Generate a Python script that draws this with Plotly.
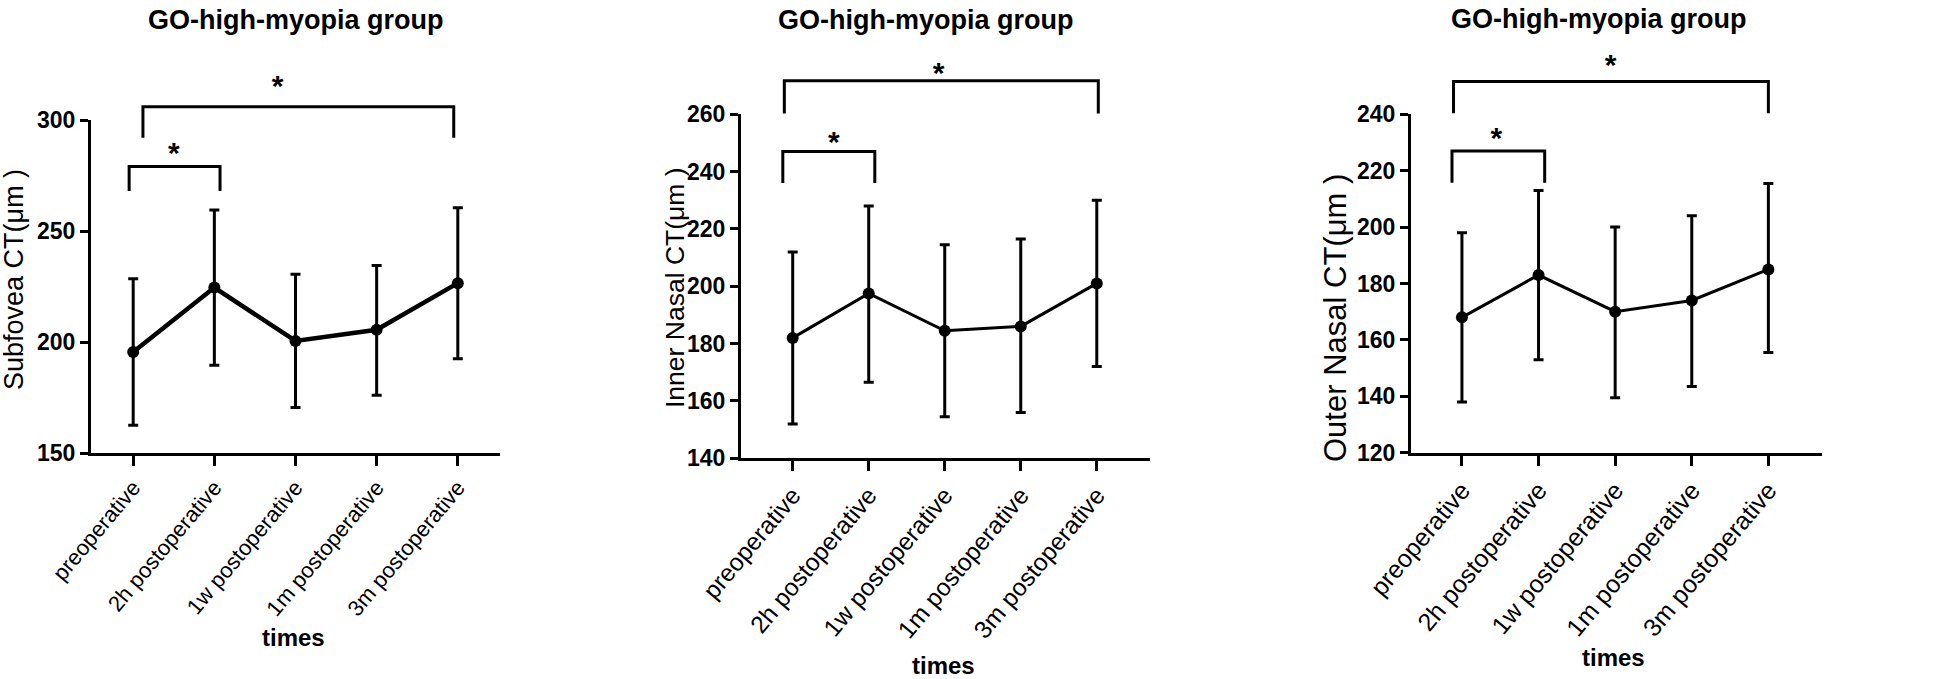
import plotly.graph_objects as go

W, H = 1946, 679

categories = ["preoperative", "2h postoperative", "1w postoperative",
              "1m postoperative", "3m postoperative"]

subfovea_mean = [195.5, 224.5, 200.5, 205.5, 226.5]
subfovea_upper = [228.5, 259.5, 230.5, 234.5, 260.5]
subfovea_lower = [162.5, 189.5, 170.5, 176.0, 192.5]

inner_mean = [182.0, 197.5, 184.5, 186.0, 201.0]
inner_upper = [212.0, 228.0, 214.5, 216.5, 230.0]
inner_lower = [152.0, 166.5, 154.5, 156.0, 172.0]

outer_mean = [168.0, 183.0, 170.0, 174.0, 185.0]
outer_upper = [198.0, 213.0, 200.0, 204.0, 215.5]
outer_lower = [138.0, 153.0, 139.5, 143.5, 155.5]

y_titles = ["Subfovea CT(μm )", "Inner Nasal CT(μm )", "Outer Nasal CT(μm )"]
chart_title = "GO-high-myopia group"
x_title = "times"

y_ticks = [[150, 200, 250, 300], [140, 160, 180, 200, 220, 240, 260],
           [120, 140, 160, 180, 200, 220, 240]]

# significance brackets: [x_left, x_right, y_top, y_leg_bottom], star [x, y]
brackets = [
    [[-0.05, 1.07, 279, 268], [0.12, 3.95, 306, 292]],
    [[-0.13, 1.08, 247, 236], [-0.11, 4.02, 271.7, 260.3]],
    [[-0.13, 1.08, 227, 215.7], [-0.11, 4.00, 251.6, 240.4]],
]
stars = [
    [[0.50, 283.8], [1.78, 314.3]],
    [[0.54, 249.6], [1.92, 273.5]],
    [[0.45, 230.6], [1.94, 256.6]],
]

means = [subfovea_mean, inner_mean, outer_mean]
uppers = [subfovea_upper, inner_upper, outer_upper]
lowers = [subfovea_lower, inner_lower, outer_lower]

# layout (pixel geometry)
x_px = [(91, 500), (741, 1150), (1411, 1822)]
y_px = [(120, 453), (114.3, 458.3), (114.3, 452.7)]
x_ranges = [[-0.52, 4.52], [-0.68, 4.70], [-0.665, 4.70]]
line_w = [4.5, 3, 3]
xtick_size = [22, 24.5, 25]
ytitle_pos = [(14, 280, 27), (675, 288, 26.5), (1335, 318, 31)]
title_pos = [(295, 20), (925, 20), (1598, 19)]
times_pos = [(293, 637), (943, 665), (1613, 657)]

FONT = "Liberation Sans, Arial, sans-serif"

fig = go.Figure()
layout = dict(width=W, height=H, margin=dict(l=0, r=0, t=0, b=0, pad=0),
              paper_bgcolor="white", plot_bgcolor="rgba(0,0,0,0)",
              showlegend=False, annotations=[])

for i in range(3):
    n = i + 1
    xa = "x" if n == 1 else f"x{n}"
    ya = "y" if n == 1 else f"y{n}"
    m, up, lo = means[i], uppers[i], lowers[i]
    fig.add_trace(go.Scatter(
        x=list(range(len(categories))), y=m, xaxis=xa, yaxis=ya,
        mode="lines+markers",
        line=dict(color="black", width=line_w[i]),
        marker=dict(color="black", size=12),
        error_y=dict(type="data", symmetric=False,
                     array=[u - v for u, v in zip(up, m)],
                     arrayminus=[v - l for v, l in zip(m, lo)],
                     color="black", thickness=3, width=5),
        cliponaxis=False))

    d0x, d1x = x_px[i][0] / W, x_px[i][1] / W
    d0y, d1y = 1 - y_px[i][1] / H, 1 - y_px[i][0] / H
    yr = [y_ticks[i][0], y_ticks[i][-1]]
    layout[f"xaxis{'' if n == 1 else n}"] = dict(
        domain=[d0x, d1x], range=x_ranges[i], anchor=ya, automargin=False,
        showline=True, linewidth=3, linecolor="black", showgrid=False,
        zeroline=False, ticks="outside", ticklen=10, tickwidth=3,
        tickcolor="black", tickvals=list(range(len(categories))),
        ticktext=categories, tickangle=-50,
        tickfont=dict(family=FONT, size=xtick_size[i], color="black"))
    layout[f"yaxis{'' if n == 1 else n}"] = dict(
        domain=[d0y, d1y], range=yr, anchor=xa, automargin=False,
        showline=True, linewidth=3, linecolor="black", showgrid=False,
        zeroline=False, ticks="outside", ticklen=8, tickwidth=3,
        tickcolor="black", tickvals=y_ticks[i],
        tickfont=dict(family=FONT, size=23, color="black", weight="bold"))

    # overlay subplot for significance brackets (same data scale, taller)
    k = n + 3
    top = yr[0] + (yr[1] - yr[0]) * (1 - d0y) / (d1y - d0y)
    layout[f"xaxis{k}"] = dict(domain=[d0x, d1x], range=x_ranges[i],
                               anchor=f"y{k}", visible=False, automargin=False)
    layout[f"yaxis{k}"] = dict(domain=[d0y, 1], range=[yr[0], top],
                               anchor=f"x{k}", visible=False, automargin=False)
    for (xl, xr, yt, yb) in brackets[i]:
        fig.add_trace(go.Scatter(x=[xl, xl, xr, xr], y=[yb, yt, yt, yb],
                                 xaxis=f"x{k}", yaxis=f"y{k}", mode="lines",
                                 line=dict(color="black", width=3),
                                 hoverinfo="skip"))
    fig.add_trace(go.Scatter(
        x=[s[0] for s in stars[i]], y=[s[1] for s in stars[i]],
        xaxis=f"x{k}", yaxis=f"y{k}", mode="text",
        text=["*"] * len(stars[i]), textposition="middle center",
        textfont=dict(family=FONT, size=30, color="black", weight="bold"),
        hoverinfo="skip"))

    tx, ty = title_pos[i]
    layout["annotations"].append(dict(
        text=chart_title, x=tx / W, y=1 - ty / H, xref="paper", yref="paper",
        xanchor="center", yanchor="middle", showarrow=False,
        font=dict(family=FONT, size=27, color="black", weight="bold")))
    px_, py_, fs = ytitle_pos[i]
    layout["annotations"].append(dict(
        text=y_titles[i], x=px_ / W, y=1 - py_ / H, xref="paper", yref="paper",
        xanchor="center", yanchor="middle", showarrow=False, textangle=-90,
        font=dict(family=FONT, size=fs, color="black")))
    mx, my = times_pos[i]
    layout["annotations"].append(dict(
        text=x_title, x=mx / W, y=1 - my / H, xref="paper", yref="paper",
        xanchor="center", yanchor="middle", showarrow=False,
        font=dict(family=FONT, size=24, color="black", weight="bold")))

fig.update_layout(**layout)
fig.write_html("out.html",
               config={"displayModeBar": False},
               post_script="document.body.style.margin='0';"
                           "document.body.style.overflow='hidden';")
